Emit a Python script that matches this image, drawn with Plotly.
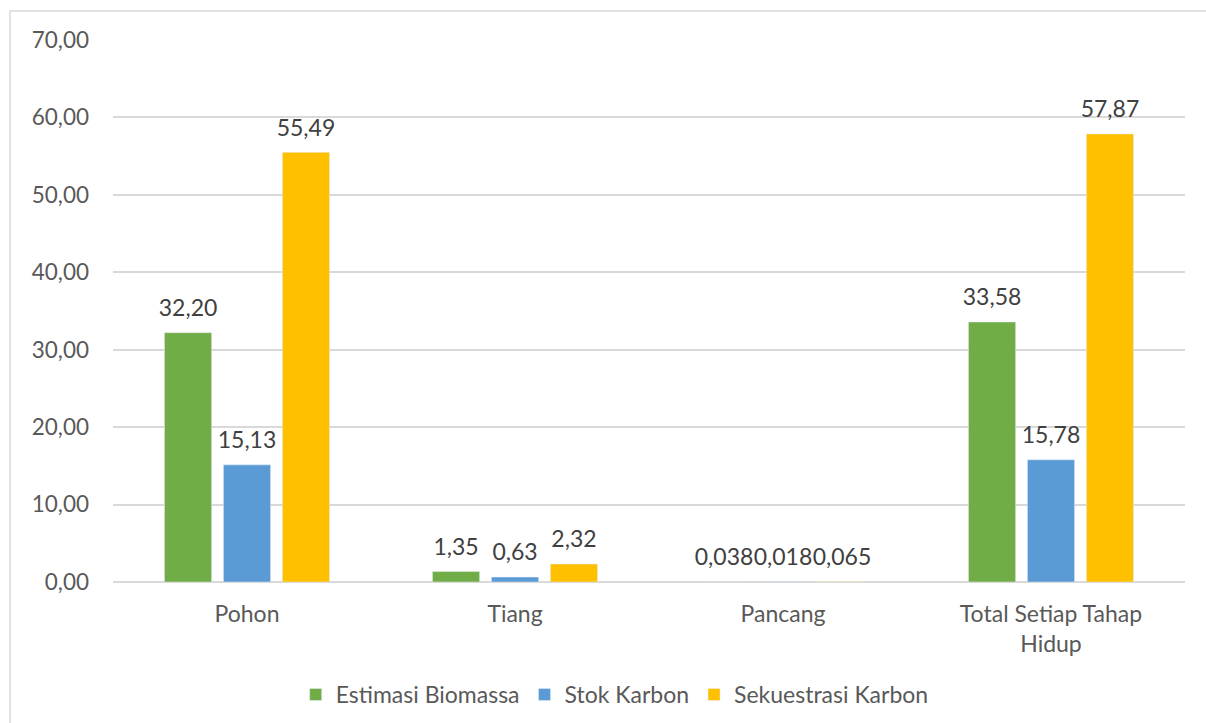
import plotly.graph_objects as go

categories = ["Pohon", "Tiang", "Pancang", "Total Setiap Tahap<br>Hidup"]
series_names = ["Estimasi Biomassa", "Stok Karbon", "Sekuestrasi Karbon"]
estimasi_biomassa = [32.20, 1.35, 0.038, 33.58]
stok_karbon = [15.13, 0.63, 0.018, 15.78]
sekuestrasi_karbon = [55.49, 2.32, 0.065, 57.87]
colors = ["#70AD47", "#5B9BD5", "#FFC000"]
y_ticks = [0, 10, 20, 30, 40, 50, 60, 70]
y_tick_labels = ["0,00", "10,00", "20,00", "30,00", "40,00", "50,00", "60,00", "70,00"]


def fmt(v):
    s = f"{v:.2f}" if v >= 0.1 else f"{v:.3f}"
    return s.replace(".", ",")


FONT = "Lato"
GREY = "#595959"

fig = go.Figure()
all_series = [estimasi_biomassa, stok_karbon, sekuestrasi_karbon]
for i, (name, vals, col) in enumerate(zip(series_names, all_series, colors)):
    fig.add_trace(go.Bar(
        x=categories, y=vals, name=name, marker_color=col,
        offsetgroup=str(i), alignmentgroup="a",
    ))
for i, (name, vals, col) in enumerate(zip(series_names, all_series, colors)):
    fig.add_trace(go.Scatter(
        x=categories, y=vals, mode="markers+text", showlegend=False,
        marker=dict(size=16, opacity=0, color=col),
        text=[fmt(v) for v in vals], textposition="top center",
        textfont=dict(family=FONT, size=23, color="#404040"),
        offsetgroup=str(i), alignmentgroup="a", cliponaxis=False, hoverinfo="skip",
    ))

fig.update_layout(
    width=1206, height=723,
    margin=dict(l=113, r=21, t=40, b=141, autoexpand=False),
    paper_bgcolor="white", plot_bgcolor="white",
    barmode="group", bargap=0.34, bargroupgap=0.2,
    scattermode="group", scattergap=0.34,
    font=dict(family=FONT, color=GREY, size=22),
    showlegend=True,
    legend=dict(orientation="h", x=0.468, xanchor="center", y=-0.168, yanchor="top",
                font=dict(family=FONT, size=23, color=GREY), itemwidth=30),
    xaxis=dict(showgrid=False, showline=False, ticks="", tickfont=dict(size=23, color=GREY),
               ticklabelstandoff=16, automargin=False),
    yaxis=dict(range=[0, 70], tickvals=y_ticks, ticktext=y_tick_labels, showgrid=True,
               gridcolor="#D9D9D9", gridwidth=1.5, zeroline=True, zerolinecolor="#D9D9D9",
               zerolinewidth=1.5, showline=False, tickfont=dict(size=22.5, color=GREY),
               ticklabelstandoff=23, automargin=False),
    shapes=[dict(type="rect", xref="paper", yref="paper", x0=-0.0961, y0=-0.32, x1=1.06, y1=1.0535,
                 line=dict(color="#D9D9D9", width=1.5), fillcolor="rgba(0,0,0,0)", layer="below")],
)

fig.write_html("out.html")
